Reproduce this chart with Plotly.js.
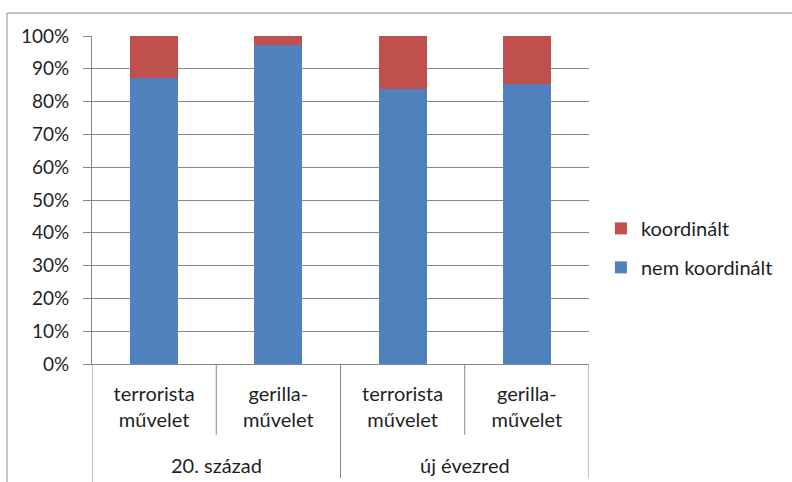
<!DOCTYPE html>
<html>
<head>
<meta charset="utf-8">
<script src="https://cdn.plot.ly/plotly-3.0.1.min.js"></script>
<style>html,body{margin:0;padding:0;background:#fff;}#chart{width:792px;height:482px;}</style>
</head>
<body>
<div id="chart"></div>
<script>
const categories = ['terrorista<br>művelet', 'gerilla-<br>művelet', 'terrorista<br>művelet', 'gerilla-<br>művelet'];
const groups = ['20. század', 'új évezred'];
const nemKoordinalt = [0.872, 0.974, 0.837, 0.855];
const koordinalt = [0.128, 0.026, 0.163, 0.145];
const seriesNames = ['nem koordinált', 'koordinált'];

const xs = categories.map((c, i) => i);
const FONT = 'Lato, "Open Sans", sans-serif';
const GRID = '#868686';
const TXT = '#1f1f1f';

const traces = [
  {type: 'bar', x: xs, y: nemKoordinalt, name: seriesNames[0], marker: {color: '#4F81BD'}, width: 0.386, legendgroup: 'a', legendrank: 2, hoverinfo: 'skip'},
  {type: 'bar', x: xs, y: koordinalt, name: seriesNames[1], marker: {color: '#C0504D'}, width: 0.386, legendgroup: 'b', legendrank: 1, hoverinfo: 'skip'}
];

const shapes = [];
// sub-category dividers
[0.5, 2.5].forEach(v => shapes.push({type: 'line', xref: 'x', yref: 'paper', x0: v, x1: v, y0: 0, y1: -0.216, line: {color: GRID, width: 1}}));
// group dividers
[-0.5, 1.5, 3.5].forEach(v => shapes.push({type: 'line', xref: 'x', yref: 'paper', x0: v, x1: v, y0: 0, y1: v < 0 ? -0.4 : -0.348, line: {color: GRID, width: 1}}));
// chart frame
shapes.push({type: 'rect', xref: 'paper', yref: 'paper', x0: -0.171, x1: 1.6, y0: -0.6, y1: 1.07, line: {color: '#8c8c8c', width: 1}});

const annotations = groups.map((g, i) => ({
  text: g, xref: 'x', yref: 'paper', x: 0.5 + 2 * i, y: -0.308, showarrow: false,
  xanchor: 'center', yanchor: 'middle', font: {family: FONT, size: 20, color: TXT}
}));

const layout = {
  width: 792, height: 482,
  margin: {l: 92, r: 203, t: 36, b: 118},
  paper_bgcolor: '#fff', plot_bgcolor: '#fff',
  barmode: 'stack',
  font: {family: FONT, size: 20, color: TXT},
  showlegend: true,
  legend: {x: 1.024, y: 0.354, xanchor: 'left', yanchor: 'middle', traceorder: 'grouped', tracegroupgap: 10,
           font: {family: FONT, size: 20, color: TXT}, itemwidth: 30},
  xaxis: {type: 'linear', range: [-0.5, 3.5], tickvals: xs, ticktext: categories, showgrid: false, zeroline: false,
          showline: true, linecolor: GRID, linewidth: 1, ticks: '', ticklabelstandoff: 12, fixedrange: true,
          tickfont: {family: FONT, size: 20, color: TXT}},
  yaxis: {range: [0, 1], dtick: 0.1, tickformat: '.0%', showgrid: true, gridcolor: GRID, gridwidth: 1, zeroline: false,
          showline: true, linecolor: GRID, linewidth: 1, ticks: 'outside', ticklen: 8, tickcolor: GRID, ticklabelstandoff: 10, fixedrange: true,
          tickfont: {family: FONT, size: 19, color: TXT}},
  shapes: shapes,
  annotations: annotations
};

Plotly.newPlot('chart', traces, layout, {staticPlot: true, displayModeBar: false});
</script>
</body>
</html>
